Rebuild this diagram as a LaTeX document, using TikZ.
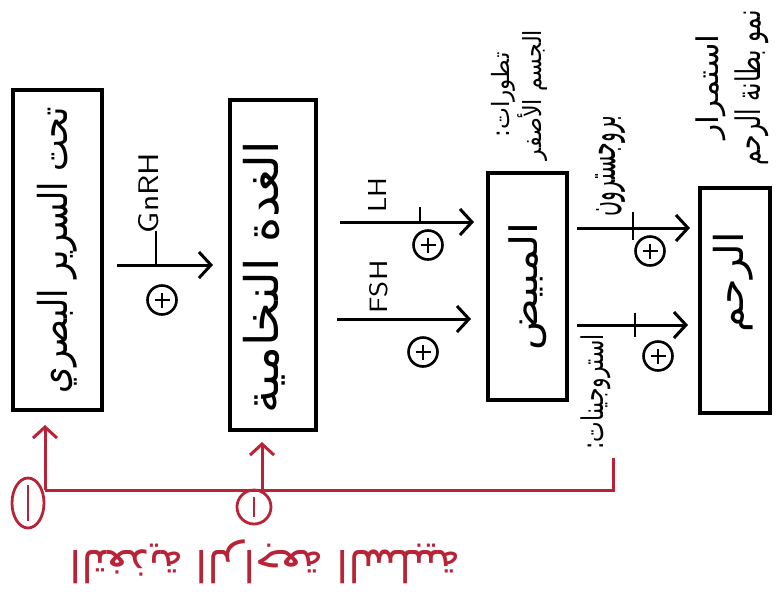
\documentclass[tikz,border=0pt]{standalone}
\usepackage{fontspec}
\usepackage{graphicx}
\usetikzlibrary{arrows.meta,calc,shapes.geometric}
\newfontfamily\arabicfont[Script=Arabic]{DejaVu Sans}
\TeXXeTstate=1
\definecolor{fbred}{RGB}{185,35,55}
\newcommand{\AR}[3]{\resizebox*{#1}{#2}{\arabicfont #3}}
\newcommand{\LT}[3]{\resizebox{#1}{#2}{\sffamily #3}}
\begin{document}
\begin{tikzpicture}[x=1pt,y=1pt,
  box/.style={draw, line width=3.2pt, inner sep=0pt},
  arr/.style={line width=3pt, -{Straight Barb[length=12pt,width=26pt,line width=3pt]}},
  plus/.style={circle, draw, line width=2.6pt, minimum size=29pt, inner sep=0pt,
    path picture={\draw[line width=2.6pt]
      ($(path picture bounding box.west)+(7pt,0)$) -- ($(path picture bounding box.east)+(-7pt,0)$)
      ($(path picture bounding box.north)+(0,-7pt)$) -- ($(path picture bounding box.south)+(0,7pt)$);}},
  minus/.style={ellipse, draw=fbred, line width=2.8pt, inner sep=0pt,
    path picture={\draw[fbred, line width=2.8pt]
      ($(path picture bounding box.north)+(0,-7pt)$) -- ($(path picture bounding box.south)+(0,7pt)$);}},
  lab/.style={rotate=90, inner sep=0pt},
  tick/.style={line width=2.8pt},
  fb/.style={fbred, line width=3pt},
  fbarr/.style={fbred, line width=3pt, -{Straight Barb[length=11pt,width=24pt,line width=3pt]}}
]
\useasboundingbox (0,0) rectangle (778,-600);
\fill[white] (0,0) rectangle (778,-600);

% boxes
\node[box, minimum width=89pt, minimum height=320pt] (b1) at (57.5,-250)
  {\rotatebox{90}{\AR{286pt}{40pt}{\beginR تحت السرير البصري\endR}}};
\node[box, minimum width=86pt, minimum height=330pt] (b2) at (273,-265) {};
\node[lab] (t2) at (264,-277) {\AR{272pt}{42pt}{\beginR الغدة النخامية\endR}};
\node[box, minimum width=79pt, minimum height=227pt] (b3) at (527.5,-286.5)
  {\rotatebox{90}{\AR{128pt}{38pt}{\beginR المبيض\endR}}};
\node[box, minimum width=70pt, minimum height=225pt] (b4) at (735,-300.5) {};
\node[lab] (t4) at (733,-282) {\AR{100pt}{40pt}{\beginR الرحم\endR}};

% outside labels
\node[lab] (l1) at (503,-95) {\AR{85pt}{24pt}{\beginR تطورات:\endR}};
\node[lab] (l2) at (533,-95) {\AR{130pt}{30pt}{\beginR الجسم الأصفر\endR}};
\node[lab] (l3) at (610,-166) {\AR{100pt}{30pt}{\beginR بروجسترون\endR}};
\node[lab] (l4) at (596,-392) {\AR{115pt}{30pt}{\beginR استروجينات:\endR}};
\node[lab] (l5) at (711,-87) {\AR{105pt}{30pt}{\beginR استمرار\endR}};
\node[lab] (l6) at (752,-88) {\AR{155pt}{34pt}{\beginR نمو بطانة الرحم\endR}};

\node[lab] (gnrh) at (149,-193) {\LT{80pt}{20pt}{GnRH}};
\node[lab] (lh) at (377,-195) {\LT{35pt}{18pt}{LH}};
\node[lab] (fsh) at (379,-287) {\LT{53pt}{18pt}{FSH}};

% arrows
\coordinate (g1) at (117,-265); \coordinate (g2) at (213,-265);
\coordinate (lh1) at (340,-222); \coordinate (lh2) at (474,-222);
\coordinate (fs1) at (337,-319); \coordinate (fs2) at (471,-319);
\coordinate (pr1) at (577,-228); \coordinate (pr2) at (690,-228);
\coordinate (es1) at (577,-325); \coordinate (es2) at (688,-325);
\draw[arr] (g1) -- (g2);
\draw[arr] (lh1) -- (lh2);
\draw[arr] (fs1) -- (fs2);
\draw[arr] (pr1) -- (pr2);
\draw[arr] (es1) -- (es2);

% ticks
\draw[tick] (156,-231) -- (156,-265);
\draw[tick] (420,-207) -- (420,-222);
\draw[tick] (633,-212) -- (633,-240);
\draw[tick] (635,-313) -- (635,-337);

% plus signs
\node[plus] (p1) at (162,-300) {};
\node[plus] (p2) at (428,-245) {};
\node[plus] (p3) at (423,-352) {};
\node[plus] (p4) at (650,-251) {};
\node[plus] (p5) at (658,-356) {};

% negative feedback
\coordinate (r0) at (613,-458);
\coordinate (r1) at (613,-490);
\coordinate (r2) at (45,-490);
\coordinate (r3) at (262,-490);
\coordinate (h1) at (45,-425);
\coordinate (h2) at (262,-442);
\draw[fb] (r0) -- (r1) -- (r2);
\draw[fbarr] (r2) -- (h1);
\draw[fbarr] (r3) -- (h2);
\node[minus, minimum width=32pt, minimum height=50pt] (m1) at (28,-503) {};
\node[minus, minimum width=34pt, minimum height=34pt] (m2) at (254,-507) {};
\node[rotate=180, inner sep=0pt, text=fbred] (fbt) at (265,-562)
  {\resizebox*{390pt}{44pt}{\arabicfont\beginR التغذية الراجعة السلبية\endR}};
\end{tikzpicture}
\end{document}
